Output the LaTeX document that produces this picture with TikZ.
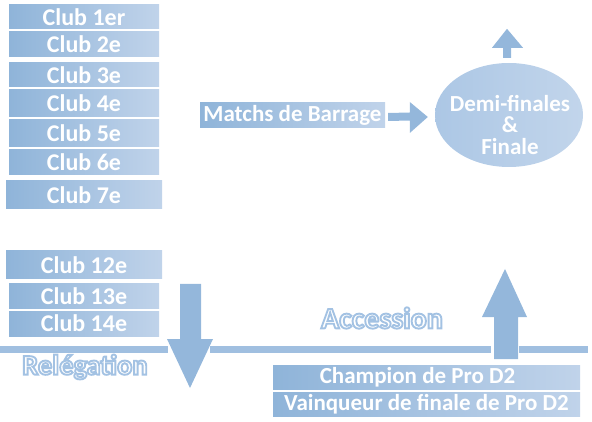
\documentclass[tikz,border=0pt]{standalone}
\usepackage{fontspec}
\setmainfont{Carlito}
\usetikzlibrary{calc,shapes.geometric}
\definecolor{cL}{RGB}{143,180,217}
\definecolor{cR}{RGB}{192,211,234}
\definecolor{arr}{RGB}{148,183,219}
\definecolor{band}{RGB}{160,191,224}
\definecolor{eL}{RGB}{172,199,229}
\definecolor{eR}{RGB}{194,213,235}
\newcommand{\hollowtext}[1]{\special{pdf:literal 2 Tr 1.9 w 0.64 0.76 0.89 RG}#1\special{pdf:literal 0 Tr 1 w}}
\begin{document}
\begin{tikzpicture}[x=1pt,y=-1pt,
  gbox/.style={rectangle, left color=cL, right color=cR, inner sep=0pt, outer sep=0pt,
    text=white, font=\bfseries\fontsize{23}{23}\selectfont, anchor=north west},
  clubbox/.style={gbox, font=\bfseries\fontsize{24}{24}\selectfont},
  bigtxt/.style={text=white},
  blockarr/.style={fill=arr, draw=none},
  bandline/.style={fill=band, draw=none}]
\useasboundingbox (0,0) rectangle (592,422);
% club boxes
\node[clubbox, minimum width=150, minimum height=24] (c1) at (9,5) {Club 1er};
\node[clubbox, minimum width=150, minimum height=25] (c2) at (9,32) {Club 2e};
\node[clubbox, minimum width=150, minimum height=24] (c3) at (9,63) {Club 3e};
\node[clubbox, minimum width=150, minimum height=27] (c4) at (9,90) {Club 4e};
\node[clubbox, minimum width=150, minimum height=27] (c5) at (9,120) {Club 5e};
\node[clubbox, minimum width=150, minimum height=25] (c6) at (9,150) {Club 6e};
\node[clubbox, minimum width=156, minimum height=28] (c7) at (6,181) {Club 7e};
\node[clubbox, minimum width=156, minimum height=28] (c12) at (6,251) {Club 12e};
\node[clubbox, minimum width=150, minimum height=24] (c13) at (9,284) {Club 13e};
\node[clubbox, minimum width=150, minimum height=25] (c14) at (9,311) {Club 14e};
% barrage
\node[gbox, minimum width=185, minimum height=25] (mb) at (200,103) {Matchs de Barrage};
\node[ellipse, left color=eL, right color=eR, minimum width=148, minimum height=104, inner sep=0pt] (ell) at (509,115) {};
\node[text=white, font=\bfseries\fontsize{23}{21.5}\selectfont, align=center, inner sep=0pt] (ellt)
  at ($(ell.center)+(1,10)$) {Demi-finales\\\&\\Finale};
% arrow barrage -> ellipse
\fill[blockarr] ($(mb.east)+(3,-2.5)$) -- ($(ell.west)+(-25,-2.5)$) -- ($(ell.west)+(-25,-13)$)
  -- ($(ell.west)+(-7,2)$) -- ($(ell.west)+(-25,18)$) -- ($(ell.west)+(-25,5.5)$) -- ($(mb.east)+(3,5.5)$) -- cycle;
% small arrow up from ellipse
\coordinate (sa) at ($(ell.north)+(-2,-5)$);
\fill[blockarr] ($(sa)+(-4,0)$) -- ($(sa)+(-4,-10)$) -- ($(sa)+(-15,-10)$) -- ($(sa)+(0,-29)$)
  -- ($(sa)+(16,-10)$) -- ($(sa)+(4,-10)$) -- ($(sa)+(4,0)$) -- cycle;
% promotion boxes
\node[gbox, minimum width=307, minimum height=24] (ch) at (273,365) {\hspace*{-18pt}Champion de Pro D2};
\node[gbox, minimum width=307, minimum height=24] (vq) at (273,392) {Vainqueur de finale de Pro D2};
% band
\fill[bandline] (0,346) rectangle (168,353);
\fill[bandline] (210,346) rectangle (491,353);
\fill[bandline] (519,346) rectangle (588,353);
% down arrow (relegation)
\fill[blockarr] (180,284) -- (201,284) -- (201,339) -- (213,339) -- (190,388) -- (167,339) -- (180,339) -- cycle;
% up arrow (accession)
\fill[blockarr] (494,359) -- (494,317) -- (482,317) -- (505,269) -- (527,317) -- (518,317) -- (518,359) -- cycle;
% outlined labels
\node[bigtxt, font=\bfseries\fontsize{28.5}{28.5}\selectfont] (rel) at (85,367) {\hollowtext{Relégation}};
\node[bigtxt, font=\bfseries\fontsize{30}{30}\selectfont] (acc) at (382,318) {\hollowtext{Accession}};
\end{tikzpicture}
\end{document}
